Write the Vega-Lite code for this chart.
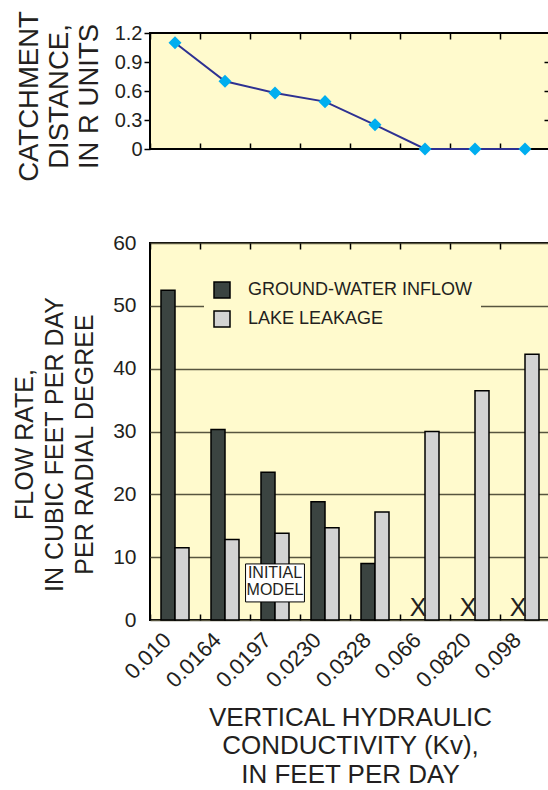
{
  "$schema": "https://vega.github.io/schema/vega-lite/v6.json",
  "padding": {"left": 11, "top": 9, "right": 0, "bottom": 0},
  "background": "white",
  "spacing": 48,
  "resolve": {"legend": {"color": "independent"}},
  "config": {
    "font": "Liberation Sans",
    "view": {"fill": "#fffacd", "stroke": "#000000", "strokeWidth": 2},
    "axis": {"labelColor": "#231f20", "titleColor": "#231f20", "titleFontWeight": "normal", "labelFont": "Liberation Sans", "titleFont": "Liberation Sans", "tickColor": "#000000", "tickWidth": 1.5, "domain": false}
  },
  "vconcat": [
    {
      "width": 400,
      "height": 116,
      "data": {"values": [
        {"kv": "0.010", "catchment": 1.1},
        {"kv": "0.0164", "catchment": 0.7},
        {"kv": "0.0197", "catchment": 0.58},
        {"kv": "0.0230", "catchment": 0.49},
        {"kv": "0.0328", "catchment": 0.25},
        {"kv": "0.066", "catchment": 0},
        {"kv": "0.0820", "catchment": 0},
        {"kv": "0.098", "catchment": 0}
      ]},
      "layer": [
        {
          "mark": {"type": "line", "color": "#2e3192", "strokeWidth": 2},
          "encoding": {
            "x": {"field": "kv", "type": "ordinal", "sort": null, "scale": {"type": "band", "paddingInner": 0, "paddingOuter": 0},
                  "axis": {"orient": "bottom", "labels": false, "tickSize": -6, "tickBand": "extent", "title": null}},
            "y": {"field": "catchment", "type": "quantitative", "scale": {"domain": [0, 1.2], "nice": false},
                  "axis": {"orient": "left", "values": [0, 0.3, 0.6, 0.9, 1.2], "format": ".1~f", "grid": false, "tickSize": 6, "labelPadding": 2, "labelFontSize": 20,
                           "title": ["CATCHMENT", "DISTANCE,", "IN R UNITS"], "titleFontSize": 27.5, "titleLineHeight": 30, "titlePadding": 11, "titleY": 63}}
          }
        },
        {
          "mark": {"type": "point", "shape": "diamond", "filled": true, "color": "#00aeef", "size": 170, "opacity": 1},
          "encoding": {
            "x": {"field": "kv", "type": "ordinal", "sort": null,
                  "axis": {"orient": "top", "labels": false, "tickSize": -6, "tickBand": "extent", "title": null}},
            "y": {"field": "catchment", "type": "quantitative",
                  "axis": {"orient": "right", "values": [0.3, 0.6, 0.9], "labels": false, "tickSize": -6, "grid": false, "title": null}}
          }
        }
      ],
      "resolve": {"axis": {"x": "independent", "y": "independent"}}
    },
    {
      "width": 400,
      "height": 377,
      "layer": [
        {
          "data": {"values": [
            {"kv": "0.010", "series": "GROUND-WATER INFLOW", "flow": 52.5},
            {"kv": "0.010", "series": "LAKE LEAKAGE", "flow": 11.5},
            {"kv": "0.0164", "series": "GROUND-WATER INFLOW", "flow": 30.3},
            {"kv": "0.0164", "series": "LAKE LEAKAGE", "flow": 12.8},
            {"kv": "0.0197", "series": "GROUND-WATER INFLOW", "flow": 23.5},
            {"kv": "0.0197", "series": "LAKE LEAKAGE", "flow": 13.8},
            {"kv": "0.0230", "series": "GROUND-WATER INFLOW", "flow": 18.8},
            {"kv": "0.0230", "series": "LAKE LEAKAGE", "flow": 14.7},
            {"kv": "0.0328", "series": "GROUND-WATER INFLOW", "flow": 9.0},
            {"kv": "0.0328", "series": "LAKE LEAKAGE", "flow": 17.2},
            {"kv": "0.066", "series": "LAKE LEAKAGE", "flow": 30.0},
            {"kv": "0.0820", "series": "LAKE LEAKAGE", "flow": 36.5},
            {"kv": "0.098", "series": "LAKE LEAKAGE", "flow": 42.3}
          ]},
          "mark": {"type": "bar", "stroke": "#000000", "strokeWidth": 1.5},
          "encoding": {
            "x": {"field": "kv", "type": "ordinal",
                  "scale": {"domain": ["0.010", "0.0164", "0.0197", "0.0230", "0.0328", "0.066", "0.0820", "0.098"], "paddingInner": 0, "paddingOuter": 0},
                  "axis": {"orient": "bottom", "labelAngle": -45, "labelFontSize": 22, "tickSize": -6, "tickBand": "extent", "labelPadding": 15, "labelOffset": -15,
                           "title": ["VERTICAL HYDRAULIC", "CONDUCTIVITY (Kv),", "IN FEET PER DAY"], "titleFontSize": 26, "titleLineHeight": 28.5, "titlePadding": 13}},
            "xOffset": {"field": "series", "type": "nominal", "scale": {"domain": ["GROUND-WATER INFLOW", "LAKE LEAKAGE"], "paddingInner": 0, "paddingOuter": 0.786}},
            "y": {"field": "flow", "type": "quantitative", "scale": {"domain": [0, 60], "nice": false},
                  "axis": {"values": [0, 10, 20, 30, 40, 50, 60], "ticks": false, "grid": true, "gridColor": "#57553f", "gridWidth": 1.5, "labelFontSize": 21, "labelPadding": 14,
                           "title": ["FLOW RATE,", "IN CUBIC FEET PER DAY", "PER RADIAL DEGREE"], "titleFontSize": 25, "titleLineHeight": 30, "titlePadding": 15, "titleY": 201}},
            "color": {"field": "series", "type": "nominal",
                      "scale": {"domain": ["GROUND-WATER INFLOW", "LAKE LEAKAGE"], "range": ["#3b4441", "#d3d3d3"]},
                      "legend": {"title": null, "orient": "none", "legendX": 54, "legendY": 29, "symbolType": "square", "symbolSize": 256, "symbolStrokeColor": "#000000", "symbolStrokeWidth": 1.5,
                                 "labelFontSize": 18, "labelColor": "#231f20", "labelOffset": 17, "rowPadding": 7, "padding": 9, "fillColor": "#fffacd", "labelLimit": 400}}
          }
        },
        {
          "data": {"values": [
            {"kv": "0.066", "series": "GROUND-WATER INFLOW", "flow": 0, "label": "X"},
            {"kv": "0.0820", "series": "GROUND-WATER INFLOW", "flow": 0, "label": "X"},
            {"kv": "0.098", "series": "GROUND-WATER INFLOW", "flow": 0, "label": "X"}
          ]},
          "mark": {"type": "text", "fontSize": 25, "baseline": "alphabetic", "dy": -4, "color": "#231f20"},
          "encoding": {
            "x": {"field": "kv", "type": "ordinal", "axis": {"orient": "top", "labels": false, "tickSize": -6, "tickBand": "extent", "title": null}},
            "xOffset": {"field": "series", "type": "nominal"},
            "y": {"field": "flow", "type": "quantitative"},
            "text": {"field": "label"}
          }
        },
        {
          "data": {"values": [{"kv": "0.0197", "flow": 5.9, "label": "INITIAL\nMODEL"}]},
          "mark": {"type": "point", "shape": "M-1.55,-1L1.55,-1L1.55,1L-1.55,1Z", "size": 1444, "filled": true, "fill": "#ffffff", "stroke": "#000000", "strokeWidth": 1, "opacity": 1},
          "encoding": {
            "x": {"field": "kv", "type": "ordinal", "axis": null},
            "y": {"field": "flow", "type": "quantitative"}
          }
        },
        {
          "data": {"values": [{"kv": "0.0197", "flow": 5.9, "label": "INITIAL\nMODEL"}]},
          "mark": {"type": "text", "fontSize": 16, "lineBreak": "\n", "lineHeight": 17, "baseline": "middle", "dy": -10, "color": "#231f20"},
          "encoding": {
            "x": {"field": "kv", "type": "ordinal", "axis": null},
            "y": {"field": "flow", "type": "quantitative"},
            "text": {"field": "label"}
          }
        }
      ],
      "resolve": {"axis": {"x": "independent"}}
    }
  ]
}
